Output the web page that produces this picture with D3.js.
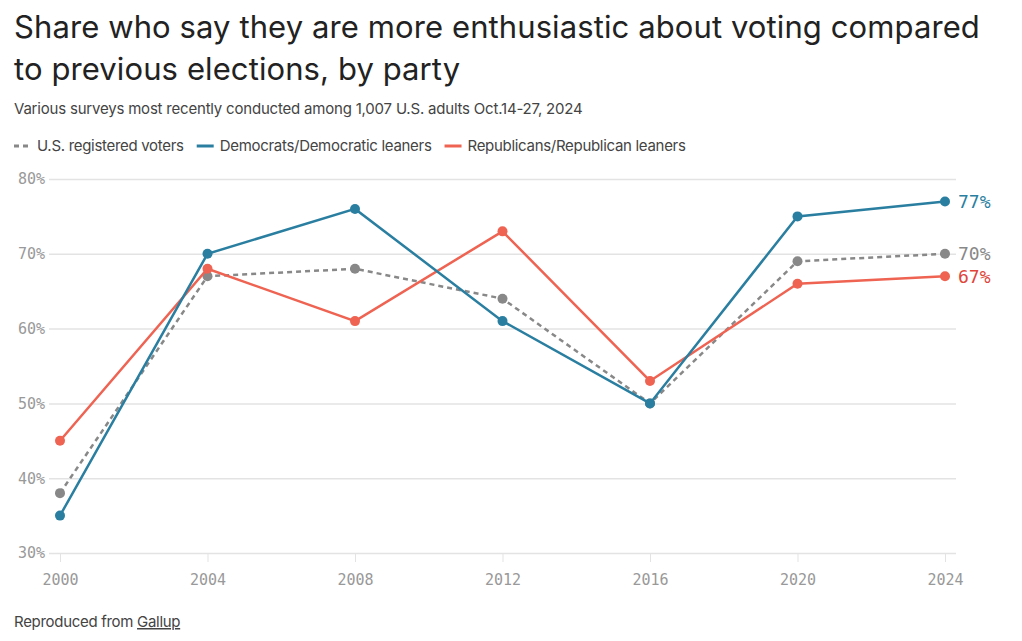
<!DOCTYPE html>
<html><head><meta charset="utf-8">
<script src="https://cdn.jsdelivr.net/npm/d3@7"></script>
<style>
body{margin:0;background:#fff;}
svg{display:block;font-family:Inter, "Noto Sans", sans-serif;}
</style></head><body>
<svg id="c" width="1022" height="641"></svg>
<script>
const years = [2000, 2004, 2008, 2012, 2016, 2020, 2024];
const registered = [38, 67, 68, 64, 50, 69, 70];
const democrats = [35, 70, 76, 61, 50, 75, 77];
const republicans = [45, 68, 61, 73, 53, 66, 67];
const yTicks = [30, 40, 50, 60, 70, 80];
const seriesNames = ["U.S. registered voters", "Democrats/Democratic leaners", "Republicans/Republican leaners"];

const svg = d3.select("#c");
const x = d3.scaleLinear().domain([2000, 2024]).range([60, 945]);
const y = d3.scaleLinear().domain([30, 80]).range([553, 179]);
const mono = "'DejaVu Sans Mono', monospace";

svg.append("text").attr("x", 14).attr("y", 38).attr("font-size", 31).attr("fill", "#222").attr("letter-spacing", 0.1)
  .text("Share who say they are more enthusiastic about voting compared");
svg.append("text").attr("x", 14).attr("y", 80).attr("font-size", 31).attr("fill", "#222").attr("letter-spacing", 0.1)
  .text("to previous elections, by party");
svg.append("text").attr("x", 14).attr("y", 114).attr("font-size", 15).attr("fill", "#444").attr("letter-spacing", -0.2)
  .text("Various surveys most recently conducted among 1,007 U.S. adults Oct.14-27, 2024");

// grid
const gY = svg.append("g").attr("transform", "translate(49,0)")
  .call(d3.axisLeft(y).tickValues(yTicks).tickSize(-907).tickFormat(d => d + "%"));
gY.select(".domain").remove();
gY.selectAll("line").attr("stroke", "#e3e3e3").attr("stroke-width", 1.5);
gY.selectAll("text").attr("x", -4).attr("font-family", mono).attr("font-size", 15).attr("fill", "#999");

const gX = svg.append("g").attr("transform", "translate(0,553)")
  .call(d3.axisBottom(x).tickValues(years).tickSize(9).tickPadding(12).tickFormat(d3.format("d")));
gX.select(".domain").remove();
gX.selectAll("line").attr("stroke", "#e3e3e3");
gX.selectAll("text").attr("font-family", mono).attr("font-size", 15).attr("fill", "#999");

const series = [
  {name: seriesNames[0], vals: registered, color: "#888888", dash: "5,4", label: "#888"},
  {name: seriesNames[2], vals: republicans, color: "#ee6352", dash: null, label: "#e0453a"},
  {name: seriesNames[1], vals: democrats, color: "#2a7fa1", dash: null, label: "#2a7fa1"},
];
const line = d3.line().x((d, i) => x(years[i])).y(d => y(d));
series.forEach(s => {
  svg.append("path").datum(s.vals).attr("d", line).attr("fill", "none")
    .attr("stroke", s.color).attr("stroke-width", 2.5).attr("stroke-dasharray", s.dash);
  svg.selectAll(null).data(s.vals).enter().append("circle")
    .attr("cx", (d, i) => x(years[i])).attr("cy", d => y(d)).attr("r", 5).attr("fill", s.color);
  const last = s.vals[s.vals.length - 1];
  svg.append("text").attr("x", 958).attr("y", y(last)).attr("dy", "0.35em")
    .attr("font-family", mono).attr("font-size", 18).attr("fill", s.label)
    .text(last + "%");
});

// legend
const legend = [
  {name: seriesNames[0], color: "#888", dash: "5,4"},
  {name: seriesNames[1], color: "#2a7fa1", dash: null},
  {name: seriesNames[2], color: "#ee6352", dash: null},
];
let lx = 14;
legend.forEach(l => {
  svg.append("line").attr("x1", lx).attr("x2", lx + 17).attr("y1", 146).attr("y2", 146)
    .attr("stroke", l.color).attr("stroke-width", 3).attr("stroke-dasharray", l.dash);
  const t = svg.append("text").attr("x", lx + 23).attr("y", 151).attr("font-size", 15).attr("fill", "#444").attr("letter-spacing", -0.3).text(l.name);
  lx += 23 + t.node().getComputedTextLength() + 13;
});

const src = svg.append("text").attr("x", 14).attr("y", 627).attr("font-size", 15).attr("fill", "#444").attr("letter-spacing", -0.3);
src.append("tspan").text("Reproduced from ");
src.append("tspan").attr("text-decoration", "underline").text("Gallup");
</script></body></html>
